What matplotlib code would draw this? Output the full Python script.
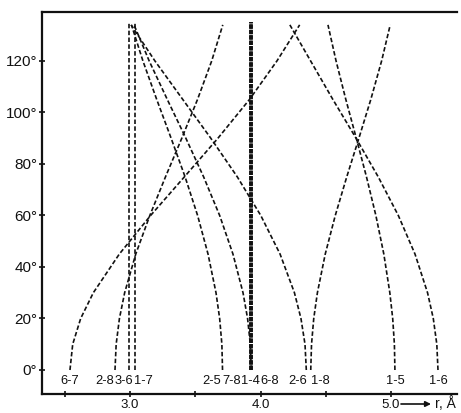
import matplotlib
matplotlib.use("Agg")
import matplotlib.pyplot as plt

# torsion angle samples (degrees)
phi = [0, 10, 20, 30, 45, 60, 75, 90, 105, 120, 134]

# interatomic distances r (Å) as functions of the angle
r_6_7 = [2.540, 2.561, 2.622, 2.719, 2.918, 3.158, 3.417, 3.674, 3.915, 4.126, 4.300]
r_2_8 = [2.885, 2.894, 2.919, 2.959, 3.044, 3.152, 3.272, 3.397, 3.517, 3.626, 3.711]
r_2_5 = [3.709, 3.704, 3.687, 3.659, 3.598, 3.518, 3.422, 3.315, 3.205, 3.099, 3.011]
r_7_8 = [3.929, 3.922, 3.901, 3.866, 3.789, 3.687, 3.564, 3.428, 3.286, 3.147, 3.031]
r_2_6 = [4.351, 4.341, 4.310, 4.260, 4.150, 4.002, 3.822, 3.619, 3.405, 3.191, 3.008]
r_1_8 = [4.385, 4.391, 4.408, 4.436, 4.496, 4.573, 4.661, 4.754, 4.845, 4.928, 4.994]
r_1_5 = [5.030, 5.026, 5.013, 4.991, 4.945, 4.884, 4.812, 4.734, 4.654, 4.579, 4.517]
r_1_6 = [5.360, 5.351, 5.324, 5.280, 5.184, 5.056, 4.902, 4.732, 4.555, 4.384, 4.225]

# distances that do not depend on the angle
phi_const = [0, 135]
r_3_6 = 2.99
r_1_7 = 3.04
r_1_4 = 3.93
r_6_8 = 3.93

y_ticks = [0, 20, 40, 60, 80, 100, 120]
x_ticks = [2.5, 3.0, 3.5, 4.0, 4.5, 5.0]
x_tick_labels = ["", "3.0", "", "4.0", "", "5.0"]

W, H = 461, 413
fig = plt.figure(figsize=(W / 100, H / 100), dpi=100)
ax = fig.add_axes([42 / W, 1 - 394 / H, (457 - 42) / W, (394 - 12) / H])
ax.set_xlim(2.3257, 5.5057)
ax.set_ylim(-9.32, 139.0)

ink = "#111111"
dash = dict(color=ink, lw=1.2, linestyle=(0, (2.7, 1.4)), dash_capstyle="butt")

# (label, distances, horizontal nudge of the label in pixels)
curves = [
    ("6-7", r_6_7, 0),
    ("2-8", r_2_8, -10.5),
    ("2-5", r_2_5, -10.5),
    ("7-8", r_7_8, -20),
    ("2-6", r_2_6, -8.5),
    ("1-8", r_1_8, 10),
    ("1-5", r_1_5, 0),
    ("1-6", r_1_6, 0),
]
for name, rv, dx in curves:
    ax.plot(rv, phi, **dash)

verticals = [
    ("3-6", r_3_6, -4.5, 1.2),
    ("1-7", r_1_7, 8.5, 1.2),
    ("1-4", r_1_4, -1, 2.6),
    ("6-8", r_6_8, 18.5, 2.6),
]
for name, rc, dx, lw in verticals:
    style = dict(dash)
    style["lw"] = lw
    if lw > 2:
        style["linestyle"] = (0, (1.2, 0.3))
    ax.plot([rc, rc], phi_const, **style)

label_font = ["Liberation Sans Narrow", "Liberation Sans", "DejaVu Sans"]
for name, r0, dx in [(n, rv[0], d) for n, rv, d in curves] + \
                    [(n, rc, d) for n, rc, d, _ in verticals]:
    ax.annotate(name, xy=(r0, 0), xytext=(dx * 0.72, -11 * 0.72),
                textcoords="offset points", ha="center", va="center",
                fontsize=9.3, family=label_font, color=ink)

ax.set_yticks(y_ticks)
ax.set_yticklabels([f"{v}°" for v in y_ticks])
ax.set_xticks(x_ticks)
ax.set_xticklabels(x_tick_labels)
ax.tick_params(axis="y", direction="inout", length=5, width=1.2, pad=1,
               labelsize=11, colors=ink)
ax.tick_params(axis="x", direction="inout", length=5, width=1.2, pad=1,
               labelsize=9.5, colors=ink)
for lab in ax.get_xticklabels() + ax.get_yticklabels():
    lab.set_family(["Liberation Sans", "DejaVu Sans"])

ax.spines["right"].set_visible(False)
for s in ("left", "bottom", "top"):
    ax.spines[s].set_linewidth(1.6)
    ax.spines[s].set_color(ink)

# axis name with arrow after the last tick label
ax.annotate("", xy=(431 / W, 1 - 404 / H), xytext=(401 / W, 1 - 404 / H),
            xycoords="figure fraction", textcoords="figure fraction",
            arrowprops=dict(arrowstyle="-|>", color=ink, lw=1.2,
                            mutation_scale=8, shrinkA=0, shrinkB=0))
fig.text(445 / W, 1 - 404 / H, "r, Å", ha="center", va="center",
         fontsize=10, family=["Liberation Sans", "DejaVu Sans"], color=ink)

fig.savefig("out.png", dpi=100, facecolor="white")
